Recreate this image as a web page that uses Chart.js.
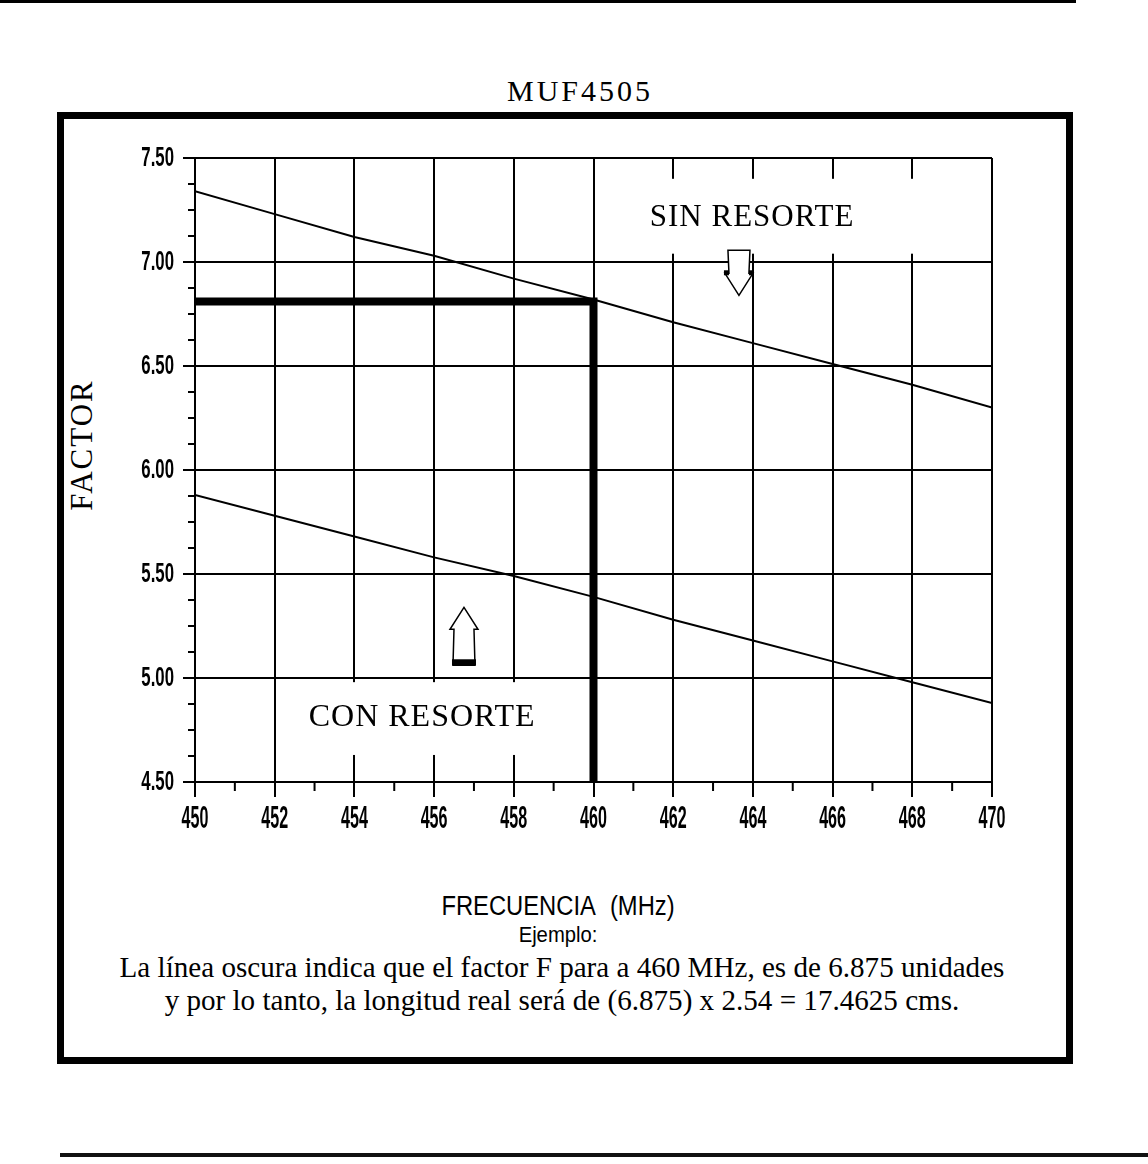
<!DOCTYPE html>
<html>
<head>
<meta charset="utf-8">
<script src="https://cdn.jsdelivr.net/npm/chart.js@4.4.1/dist/chart.umd.min.js"></script>
<style>
  html, body { margin: 0; padding: 0; background: #fff; }
  body { width: 1148px; height: 1164px; position: relative; overflow: hidden; }
  .serif { font-family: "Liberation Serif", "Times New Roman", serif; color: #000; }
  .sans { font-family: "Liberation Sans", Arial, sans-serif; color: #000; }
  #scanTop { position: absolute; left: 0; top: 0; width: 1076px; height: 3px; background: #000; }
  #scanBottom { position: absolute; left: 60px; top: 1153px; width: 1088px; height: 4px; background: #111; }
  #title { position: absolute; left: 0; width: 1148px; top: 74px; text-align: center; font-size: 30px; letter-spacing: 3px; padding-left: 6px; }
  #frame { position: absolute; left: 57px; top: 112px; width: 1016px; height: 952px; border: 7px solid #000; box-sizing: border-box; }
  #yTitle { position: absolute; left: 82px; top: 445px; transform: translate(-50%, -50%) rotate(-90deg); font-size: 31px; letter-spacing: 2px; white-space: nowrap; }
  #wrap { position: absolute; left: 70px; top: 125px; width: 990px; height: 720px; }
  #xTitle { position: absolute; left: 0; width: 1116px; top: 891px; text-align: center; font-size: 27px; word-spacing: 10px; transform: scaleX(0.88); white-space: nowrap; }
  #ejemplo { position: absolute; left: 0; width: 1116px; top: 922px; text-align: center; font-size: 22px; transform: scaleX(0.92); }
  .caption { position: absolute; left: 0; width: 1124px; text-align: center; font-size: 30px; transform: scaleX(0.97); white-space: nowrap; }
</style>
</head>
<body>
<div id="scanTop"></div>
<div id="scanBottom"></div>
<div id="title" class="serif">MUF4505</div>
<div id="frame"></div>
<div id="yTitle" class="serif">FACTOR</div>
<div id="wrap"><canvas id="canvas"></canvas></div>
<div id="xTitle" class="sans">FRECUENCIA (MHz)</div>
<div id="ejemplo" class="sans">Ejemplo:</div>
<div class="caption serif" style="top: 950px;">La línea oscura indica que el factor F para a 460 MHz, es de 6.875 unidades</div>
<div class="caption serif" style="top: 983px;">y por lo tanto, la longitud real será de (6.875) x 2.54 = 17.4625 cms.</div>

<script>
'use strict';

// frequency (MHz) read at each vertical grid line
const freqs = [450, 452, 454, 456, 458, 460, 462, 464, 466, 468, 470];
const sinResorte = [7.34, 7.23, 7.12, 7.03, 6.92, 6.82, 6.71, 6.61, 6.51, 6.41, 6.30];
const conResorte = [5.88, 5.78, 5.68, 5.58, 5.49, 5.39, 5.28, 5.18, 5.08, 4.98, 4.88];

// the dark example line
const exampleFreq = [450, 460, 460];
const exampleFactor = [6.81, 6.81, 4.50];

const xMin = 450, xMax = 470, xStep = 2, xMinorStep = 1;
const yMin = 4.5, yMax = 7.5, yStep = 0.5, yMinorStep = 0.125;

// labels inside the plot: text, centre (freq, factor), white box corners (freq, factor)
const notes = [
   {text: 'SIN RESORTE', x: 463.98, y: 7.21, size: 31, box: [461.4, 7.40, 468.1, 7.04]},
   {text: 'CON RESORTE', x: 455.70, y: 4.81, size: 32, box: [452.3, 4.98, 459.6, 4.63]}
];
// hollow arrows: tip position, direction, length in px
const arrows = [
   {x: 463.65, y: 6.84, dir: 'down', len: 45},
   {x: 456.75, y: 5.34, dir: 'up', len: 58}
];

function points(xs, ys) {
   return xs.map((x, i) => ({x, y: ys[i]}));
}

// tick labels are a squeezed bold sans, drawn from the scale ticks
function drawTickLabels(ctx, scale, horizontal) {
   let area = scale.chart.chartArea;
   ctx.save();
   ctx.fillStyle = '#000';
   ctx.textBaseline = 'middle';
   ctx.font = (horizontal ? 'bold 31px' : 'bold 28px') + ' "Liberation Sans", Arial, sans-serif';
   ctx.textAlign = horizontal ? 'center' : 'right';
   for (let t of scale.ticks) {
      let text = horizontal ? String(t.value) : t.value.toFixed(2);
      let px = horizontal ? scale.getPixelForValue(t.value) : area.left - 21;
      let py = horizontal ? area.bottom + 37 : scale.getPixelForValue(t.value);
      ctx.save();
      ctx.translate(px, py);
      ctx.scale(horizontal ? 0.52 : 0.6, 1);
      ctx.fillText(text, 0, 0);
      ctx.restore();
   }
   ctx.restore();
}

const annotations = {
   id: 'annotations',
   beforeDatasetsDraw(chart) {
      let ctx = chart.ctx;
      let xs = chart.scales.x, ys = chart.scales.y;
      ctx.save();
      ctx.fillStyle = '#fff';
      for (let n of notes) {
         let l = xs.getPixelForValue(n.box[0]), t = ys.getPixelForValue(n.box[1]);
         let r = xs.getPixelForValue(n.box[2]), b = ys.getPixelForValue(n.box[3]);
         ctx.fillRect(l, t, r - l, b - t);
      }
      ctx.restore();
   },
   afterDatasetsDraw(chart) {
      let ctx = chart.ctx;
      let xs = chart.scales.x, ys = chart.scales.y;
      let area = chart.chartArea;
      ctx.save();
      // minor ticks
      ctx.strokeStyle = '#000';
      ctx.lineWidth = 2;
      ctx.beginPath();
      for (let v = yMin; v <= yMax + 1e-9; v += yMinorStep) {
         let py = ys.getPixelForValue(v);
         ctx.moveTo(area.left - 7, py);
         ctx.lineTo(area.left, py);
      }
      for (let v = xMin + xMinorStep; v < xMax; v += xStep) {
         let px = xs.getPixelForValue(v);
         ctx.moveTo(px, area.bottom);
         ctx.lineTo(px, area.bottom + 9);
      }
      ctx.stroke();

      drawTickLabels(ctx, xs, true);
      drawTickLabels(ctx, ys, false);

      // note texts
      ctx.fillStyle = '#000';
      ctx.textAlign = 'center';
      ctx.textBaseline = 'middle';
      for (let n of notes) {
         ctx.font = n.size + 'px "Liberation Serif", "Times New Roman", serif';
         if ('letterSpacing' in ctx) ctx.letterSpacing = '1px';
         ctx.fillText(n.text, xs.getPixelForValue(n.x), ys.getPixelForValue(n.y));
      }
      if ('letterSpacing' in ctx) ctx.letterSpacing = '0px';

      // hollow arrows
      ctx.lineWidth = 1.5;
      for (let a of arrows) {
         let px = xs.getPixelForValue(a.x), py = ys.getPixelForValue(a.y);
         let s = a.dir === 'down' ? -1 : 1;
         ctx.beginPath();
         ctx.moveTo(px, py);
         ctx.lineTo(px - 14, py + s * 22);
         ctx.lineTo(px - 10, py + s * 22);
         ctx.lineTo(px - 11, py + s * a.len);
         ctx.lineTo(px + 11, py + s * a.len);
         ctx.lineTo(px + 10, py + s * 22);
         ctx.lineTo(px + 14, py + s * 22);
         ctx.closePath();
         ctx.fillStyle = '#fff';
         ctx.fill();
         ctx.stroke();
         ctx.fillStyle = '#000';
         if (a.dir === 'up') {
            ctx.fillRect(px - 12, py + a.len - 6, 24, 6);
         } else {
            ctx.fillRect(px - 15, py - 25, 5, 5);
            ctx.fillRect(px + 10, py - 25, 5, 5);
         }
      }
      ctx.restore();
   }
};

let ctx = document.querySelector('#canvas').getContext('2d');
let chart = new Chart(ctx, {
   type: 'line',
   data: {
      datasets: [
         {label: 'SIN RESORTE', data: points(freqs, sinResorte), borderColor: '#000', borderWidth: 2},
         {label: 'CON RESORTE', data: points(freqs, conResorte), borderColor: '#000', borderWidth: 2},
         {label: 'Ejemplo', data: points(exampleFreq, exampleFactor), borderColor: '#000', borderWidth: 8,
            borderJoinStyle: 'miter', borderCapStyle: 'butt'}
      ]
   },
   options: {
      responsive: true,
      maintainAspectRatio: false,
      animation: false,
      events: [],
      layout: {padding: {top: 33, right: 68, left: 0, bottom: 0}},
      elements: {point: {radius: 0}, line: {tension: 0, fill: false}},
      plugins: {legend: {display: false}, tooltip: {enabled: false}},
      scales: {
         x: {
            type: 'linear',
            min: xMin,
            max: xMax,
            ticks: {stepSize: xStep, display: false},
            grid: {color: '#000', lineWidth: 2, tickLength: 15, tickColor: '#000'},
            border: {color: '#000', width: 2},
            afterFit(scale) { scale.height = 63; }
         },
         y: {
            type: 'linear',
            min: yMin,
            max: yMax,
            ticks: {stepSize: yStep, display: false},
            grid: {color: '#000', lineWidth: 2, tickLength: 12, tickColor: '#000'},
            border: {color: '#000', width: 2},
            afterFit(scale) { scale.width = 125; }
         }
      }
   },
   plugins: [annotations]
});
</script>
</body>
</html>
